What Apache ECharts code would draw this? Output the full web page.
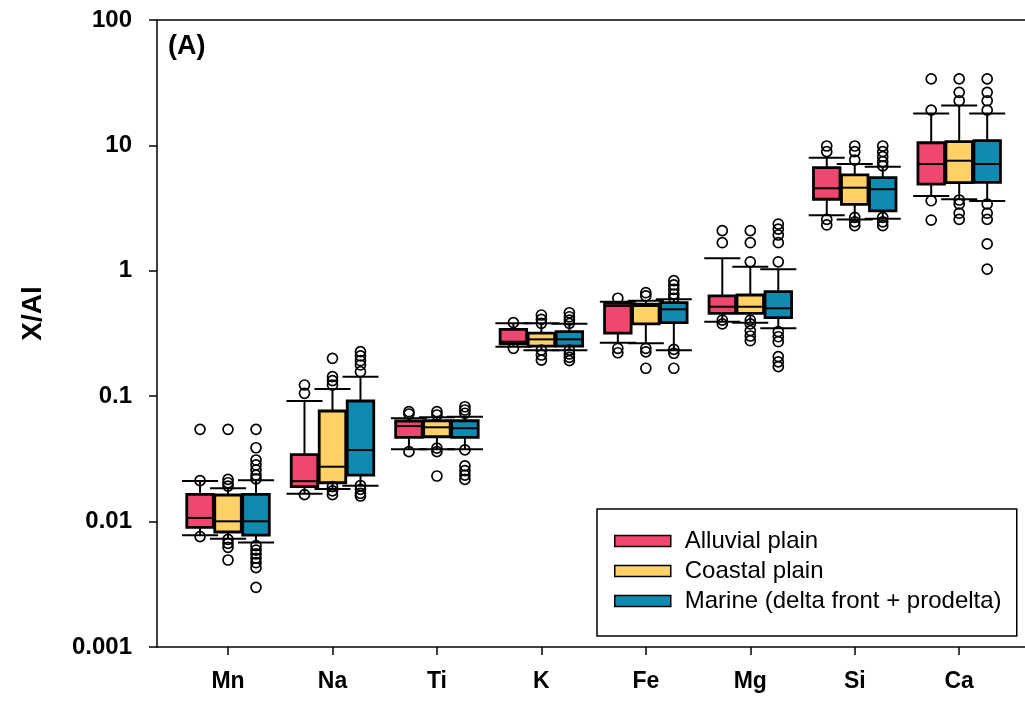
<!DOCTYPE html>
<html>
<head>
<meta charset="utf-8">
<script src="https://cdn.jsdelivr.net/npm/echarts@6/dist/echarts.min.js"></script>
<style>
html,body{margin:0;padding:0;background:#fff;}
#chart{width:1025px;height:702px;}
</style>
</head>
<body>
<div id="chart"></div>
<script>
// ---------- data ----------
var categories = ['Mn', 'Na', 'Ti', 'K', 'Fe', 'Mg', 'Si', 'Ca'];
var groups = ['Alluvial plain', 'Coastal plain', 'Marine (delta front + prodelta)'];
var yTickLabels = ['0.001', '0.01', '0.1', '1', '10', '100'];

// [lower whisker, Q1, median, Q3, upper whisker]
var alluvialStats = [
  [0.0078, 0.0090, 0.0107, 0.0165, 0.0211],
  [0.0167, 0.0190, 0.0210, 0.0342, 0.0916],
  [0.0377, 0.0470, 0.0578, 0.0634, 0.0667],
  [0.248, 0.261, 0.272, 0.341, 0.381],
  [0.267, 0.318, 0.524, 0.551, 0.567],
  [0.393, 0.458, 0.517, 0.630, 1.259],
  [2.77, 3.72, 4.55, 6.64, 7.98],
  [3.95, 4.92, 7.11, 10.5, 18.0]
];
var coastalStats = [
  [0.00731, 0.00826, 0.01005, 0.0163, 0.01845],
  [0.0182, 0.0204, 0.0274, 0.0762, 0.114],
  [0.0377, 0.0475, 0.0565, 0.0637, 0.0679],
  [0.233, 0.251, 0.284, 0.318, 0.381],
  [0.264, 0.377, 0.524, 0.543, 0.578],
  [0.386, 0.458, 0.517, 0.641, 1.079],
  [2.57, 3.39, 4.60, 5.81, 7.11],
  [3.72, 5.04, 7.55, 10.7, 20.8]
];
var marineStats = [
  [0.0068, 0.0078, 0.01005, 0.0165, 0.0214],
  [0.0193, 0.0235, 0.0372, 0.0916, 0.143],
  [0.0377, 0.0470, 0.0555, 0.0637, 0.0687],
  [0.233, 0.251, 0.284, 0.327, 0.378],
  [0.233, 0.386, 0.493, 0.557, 0.593],
  [0.348, 0.423, 0.502, 0.681, 1.028],
  [2.60, 3.00, 4.47, 5.53, 6.77],
  [3.61, 5.08, 7.11, 10.9, 18.0]
];

var alluvialOutliers = [
  [0.0544, 0.0212, 0.0076],
  [0.1228, 0.1055, 0.0164],
  [0.0752, 0.0721, 0.0361],
  [0.386, 0.241],
  [0.604, 0.241, 0.222],
  [2.09, 1.675, 0.405, 0.377],
  [9.89, 8.91, 2.57, 2.32],
  [33.9, 19.1, 3.62, 2.54]
];
var coastalOutliers = [
  [0.0544, 0.0217, 0.0204, 0.0192, 0.00722, 0.00671, 0.00624, 0.00494],
  [0.2005, 0.143, 0.133, 0.1228, 0.019, 0.0176, 0.0164],
  [0.0752, 0.0708, 0.0385, 0.0361, 0.0231],
  [0.444, 0.410, 0.381, 0.233, 0.213, 0.194],
  [0.669, 0.630, 0.241, 0.226, 0.167],
  [2.09, 1.675, 1.18, 0.405, 0.377, 0.333, 0.302, 0.277],
  [9.89, 8.91, 7.65, 2.67, 2.46, 2.29],
  [33.9, 26.5, 22.7, 3.67, 3.41, 2.88, 2.57]
];
var marineOutliers = [
  [0.0544, 0.0388, 0.031, 0.0283, 0.0258, 0.0235, 0.0219, 0.00643, 0.00593, 0.00552, 0.0051, 0.0047, 0.00429, 0.00299],
  [0.2265, 0.2094, 0.1919, 0.1774, 0.1568, 0.0194, 0.0181, 0.0168, 0.016],
  [0.0824, 0.0776, 0.0731, 0.0373, 0.0278, 0.0255, 0.0235, 0.0217],
  [0.463, 0.430, 0.405, 0.381, 0.233, 0.217, 0.204, 0.192],
  [0.834, 0.771, 0.712, 0.653, 0.604, 0.236, 0.220, 0.167],
  [2.36, 2.15, 1.93, 1.675, 1.18, 0.327, 0.298, 0.272, 0.207, 0.188, 0.172],
  [9.89, 8.91, 8.13, 7.41, 6.86, 2.67, 2.46, 2.29],
  [33.9, 26.5, 22.7, 19.1, 3.41, 2.88, 2.57, 1.64, 1.03]
];

// ---------- layout / style ----------
var FONT = '"Liberation Sans", Arial, Helvetica, sans-serif';
var colors = ['#EF476F', '#FFD166', '#118AB2'];
var offsets = [-0.268, 0, 0.268];
var BOX_W = 0.254;
var CAP_W = 0.345;
var statsList = [alluvialStats, coastalStats, marineStats];
var outlierList = [alluvialOutliers, coastalOutliers, marineOutliers];

function boxRenderer(offset) {
  return function (params, api) {
    var x = api.value(0) + offset;
    var low = api.value(1), q1 = api.value(2), med = api.value(3), q3 = api.value(4), high = api.value(5);
    function pt(dx, v) { return api.coord([x + dx, v]); }
    var hb = BOX_W / 2, hc = CAP_W / 2;
    var ls = { stroke: '#000', lineWidth: 2 };
    var bTL = pt(-hb, q3), bBR = pt(hb, q1);
    var c = pt(0, q3), cHi = pt(0, high), cQ1 = pt(0, q1), cLo = pt(0, low);
    var capHL = pt(-hc, high), capHR = pt(hc, high);
    var capLL = pt(-hc, low), capLR = pt(hc, low);
    var mL = pt(-hb, med), mR = pt(hb, med);
    return {
      type: 'group',
      children: [
        { type: 'line', shape: { x1: c[0], y1: c[1], x2: cHi[0], y2: cHi[1] }, style: ls },
        { type: 'line', shape: { x1: cQ1[0], y1: cQ1[1], x2: cLo[0], y2: cLo[1] }, style: ls },
        { type: 'line', shape: { x1: capHL[0], y1: capHL[1], x2: capHR[0], y2: capHR[1] }, style: ls },
        { type: 'line', shape: { x1: capLL[0], y1: capLL[1], x2: capLR[0], y2: capLR[1] }, style: ls },
        { type: 'rect', shape: { x: bTL[0], y: bTL[1], width: bBR[0] - bTL[0], height: bBR[1] - bTL[1] },
          style: { fill: api.visual('color'), stroke: '#000', lineWidth: 2.8 } },
        { type: 'line', shape: { x1: mL[0], y1: mL[1], x2: mR[0], y2: mR[1] }, style: ls }
      ]
    };
  };
}

var series = [];
groups.forEach(function (g, gi) {
  series.push({
    name: g,
    type: 'custom',
    renderItem: boxRenderer(offsets[gi]),
    itemStyle: { color: colors[gi], borderColor: '#000', borderWidth: 1.5 },
    encode: { x: 0, y: [1, 2, 3, 4, 5] },
    data: statsList[gi].map(function (s, i) { return [i].concat(s); }),
    z: 2,
    clip: false
  });
});
groups.forEach(function (g, gi) {
  var d = [];
  outlierList[gi].forEach(function (arr, i) {
    arr.forEach(function (v) { d.push([i + offsets[gi], v]); });
  });
  series.push({
    name: g + ' outliers',
    type: 'scatter',
    symbol: 'circle',
    symbolSize: 10,
    itemStyle: { color: 'rgba(0,0,0,0)', borderColor: '#000', borderWidth: 1.7, opacity: 1 },
    data: d,
    z: 3,
    silent: true
  });
});

var catTicks = categories.map(function (c, i) { return i; });

var chart = echarts.init(document.getElementById('chart'), null, { renderer: 'canvas' });
chart.setOption({
  animation: false,
  backgroundColor: '#fff',
  title: {
    text: '(A)', left: 168, top: 33, padding: 0,
    textStyle: { fontFamily: FONT, fontSize: 27, fontWeight: 'bold', color: '#000' }
  },
  grid: { left: 157, right: 0, top: 20, bottom: 55, containLabel: false },
  legend: {
    data: groups,
    orient: 'vertical',
    left: 597, top: 509,
    padding: [20, 10, 23, 17],
    itemWidth: 56, itemHeight: 11, itemGap: 6,
    icon: 'rect',
    backgroundColor: '#fff', borderColor: '#000', borderWidth: 1.5, borderRadius: 0,
    itemStyle: { borderColor: '#000', borderWidth: 1.5 },
    textStyle: { fontFamily: FONT, fontSize: 24, color: '#000', width: 322, padding: [0, 0, 0, 9], lineHeight: 24 }
  },
  xAxis: [{
    type: 'value',
    min: -0.68, max: 7.63,
    splitLine: { show: false },
    axisLine: { show: true, onZero: false, lineStyle: { color: '#000', width: 1.5 } },
    axisTick: { show: true, customValues: catTicks, length: 8, lineStyle: { color: '#000', width: 1.5 } },
    axisLabel: {
      customValues: catTicks, margin: 23,
      formatter: function (v) { return categories[Math.round(v)]; },
      fontFamily: FONT, fontSize: 23, fontWeight: 'bold', color: '#000'
    }
  }, {
    type: 'value', position: 'top',
    min: -0.68, max: 7.63,
    splitLine: { show: false },
    axisLine: { show: true, onZero: false, lineStyle: { color: '#000', width: 1.5 } },
    axisTick: { show: false }, axisLabel: { show: false }
  }],
  yAxis: {
    type: 'log', logBase: 10, min: 0.001, max: 100,
    name: 'X/Al', nameLocation: 'middle', nameGap: 110,
    nameTextStyle: { fontFamily: FONT, fontSize: 28, fontWeight: 'bold', color: '#000', padding: [0, 0, 0, 40] },
    splitLine: { show: false },
    minorTick: { show: false },
    axisLine: { show: true, onZero: false, lineStyle: { color: '#000', width: 1.5 } },
    axisTick: { show: true, length: 8, lineStyle: { color: '#000', width: 1.5 } },
    axisLabel: {
      margin: 25,
      formatter: function (v) { return yTickLabels[Math.round(Math.log10(v)) + 3]; },
      fontFamily: FONT, fontSize: 24, fontWeight: 'bold', color: '#000'
    }
  },
  series: series
});
</script>
</body>
</html>
